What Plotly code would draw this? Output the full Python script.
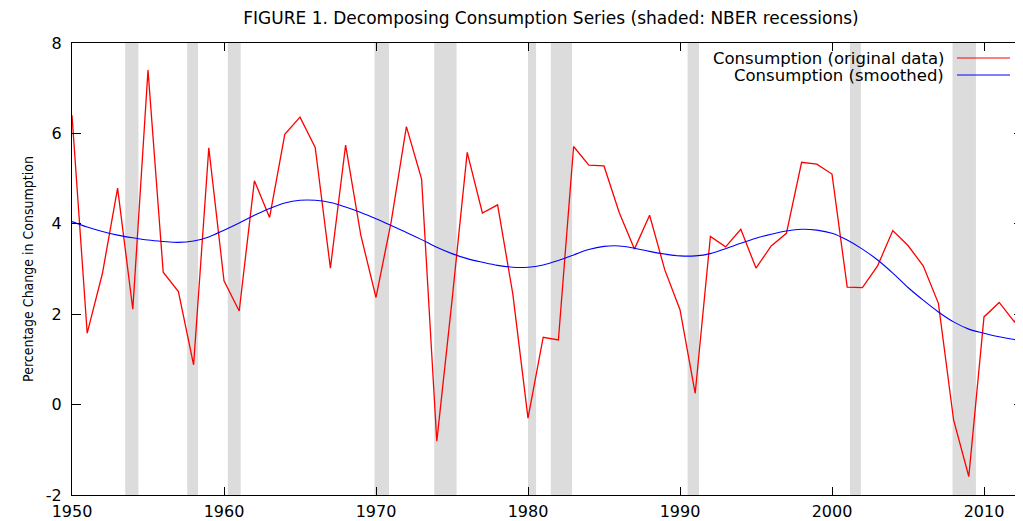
import plotly.graph_objects as go

years = list(range(1950, 2014))

consumption_original = [
    6.4, 1.58, 2.9, 4.79, 2.11, 7.40, 2.93, 2.50, 0.88, 5.68,
    2.74, 2.07, 4.95, 4.14, 5.98, 6.36, 5.69, 3.02, 5.74, 3.75,
    2.37, 4.05, 6.15, 4.99, -0.81, 2.3, 5.58, 4.24, 4.42, 2.45,
    -0.30, 1.49, 1.43, 5.71, 5.30, 5.28, 4.25, 3.44, 4.19, 2.98,
    2.10, 0.25, 3.72, 3.49, 3.88, 3.02, 3.51, 3.79, 5.36, 5.32,
    5.10, 2.60, 2.59, 3.07, 3.85, 3.52, 3.07, 2.24, -0.34, -1.59,
    1.94, 2.26, 1.83, 2.3,
]

consumption_smoothed = [
    4.05, 3.93, 3.83, 3.75, 3.69, 3.64, 3.61, 3.59, 3.62, 3.71,
    3.86, 4.02, 4.19, 4.34, 4.46, 4.52, 4.52, 4.47, 4.37, 4.25,
    4.11, 3.96, 3.81, 3.65, 3.48, 3.34, 3.23, 3.15, 3.08, 3.04,
    3.04, 3.09, 3.19, 3.31, 3.43, 3.50, 3.51, 3.46, 3.39, 3.33,
    3.29, 3.29, 3.34, 3.45, 3.57, 3.68, 3.77, 3.84, 3.88, 3.86,
    3.79, 3.64, 3.44, 3.20, 2.91, 2.59, 2.31, 2.05, 1.83, 1.67,
    1.58, 1.50, 1.44, 1.40,
]

recession_start = [1953.5, 1957.58, 1960.25, 1969.9, 1973.83, 1980.0, 1981.5, 1990.5, 2001.18, 2007.93]
recession_end = [1954.37, 1958.29, 1961.1, 1970.86, 1975.3, 1980.53, 1982.9, 1991.25, 2001.9, 2009.47]

x_ticks = [1950, 1960, 1970, 1980, 1990, 2000, 2010]
y_ticks = [-2, 0, 2, 4, 6, 8]
y_tick_labels = ["-2", "0", "2", "4", "6", "8"]

series_names = ["Consumption (original data)", "Consumption (smoothed)"]
series_colors = ["#ff0000", "#0000ff"]

FONT = "DejaVu Sans"

# page body has an 8px margin: figure occupies (8,8)-(1023,521)
OFF = 8
W, H = 1023 - OFF, 521 - OFF
ml, mr, mt, mb = 72 - OFF, 0, 43 - OFF, 26
pw, ph = W - ml - mr, H - mt - mb

def px_x(p):
    return (p - OFF - ml) / pw

def px_y(p):
    return 1 - (p - OFF - mt) / ph

fig = go.Figure()

for s, e in zip(recession_start, recession_end):
    fig.add_shape(type="rect", xref="x", yref="paper", x0=s, x1=e, y0=0, y1=1,
                  fillcolor="#dcdcdc", line=dict(width=0), layer="below")

fig.add_trace(go.Scatter(x=years, y=consumption_original, mode="lines",
                         name=series_names[0],
                         line=dict(color=series_colors[0], width=1.3)))
fig.add_trace(go.Scatter(x=years, y=consumption_smoothed, mode="lines",
                         name=series_names[1],
                         line=dict(color=series_colors[1], width=1.1, shape="spline")))

legend_rows_px = [58, 75]
for name, color, ypx in zip(series_names, series_colors, legend_rows_px):
    fig.add_annotation(x=px_x(946), y=px_y(ypx), xref="paper", yref="paper",
                       text=name, showarrow=False, xanchor="right", yanchor="middle",
                       font=dict(family=FONT, size=16.5, color="#000000"))
    fig.add_shape(type="line", xref="paper", yref="paper",
                  x0=px_x(957), x1=px_x(1010), y0=px_y(ypx), y1=px_y(ypx),
                  line=dict(color=color, width=1.2))

fig.update_layout(
    width=W, height=H,
    margin=dict(l=ml, r=mr, t=mt, b=mb),
    paper_bgcolor="white", plot_bgcolor="white",
    showlegend=False,
    title=dict(text="FIGURE 1. Decomposing Consumption Series (shaded: NBER recessions)",
               x=(551 - OFF) / W, xanchor="center", y=1 - (18 - OFF) / H, yanchor="middle",
               xref="container",
               font=dict(family=FONT, size=17, color="#000000")),
    font=dict(family=FONT, color="#000000"),
)

fig.update_xaxes(range=[1950, 1950 + pw / 15.2], tickvals=x_ticks,
                 ticktext=[str(v) for v in x_ticks],
                 ticks="inside", ticklen=8, tickcolor="#000000", tickwidth=1,
                 ticklabelstandoff=2,
                 showline=True, linecolor="#000000", linewidth=1, mirror="ticks",
                 showgrid=False, zeroline=False,
                 tickfont=dict(family=FONT, size=16, color="#000000"))
fig.update_yaxes(range=[-2, 8], tickvals=y_ticks, ticktext=y_tick_labels,
                 ticks="inside", ticklen=9, tickcolor="#000000", tickwidth=1,
                 ticklabelstandoff=6,
                 showline=True, linecolor="#000000", linewidth=1, mirror="ticks",
                 showgrid=False, zeroline=False,
                 tickfont=dict(family=FONT, size=16, color="#000000"),
                 title=dict(text="Percentage Change in Consumption", standoff=8,
                            font=dict(family="DejaVu Sans Condensed", size=14, color="#000000")))

fig.write_html("out.html")
